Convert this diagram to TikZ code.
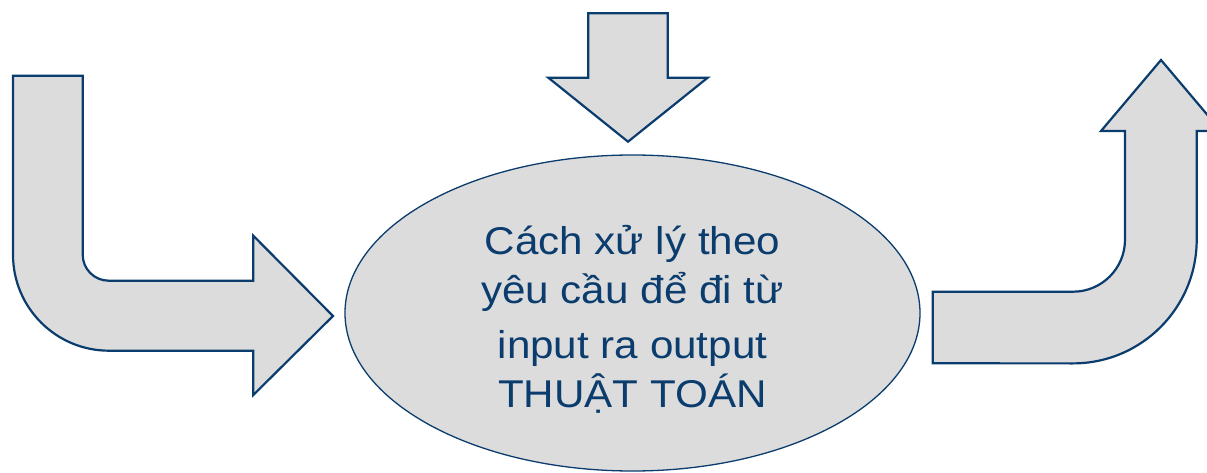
\documentclass[tikz,border=0pt]{standalone}
\usepackage{fontspec}
\setmainfont{Liberation Sans}
\usetikzlibrary{shapes.geometric}
\definecolor{navy}{HTML}{0B3C6E}
\definecolor{shapefill}{HTML}{DCDCDC}
\begin{document}
\begin{tikzpicture}[x=1pt,y=1pt,
  bigarrow/.style={draw=navy, fill=shapefill, line width=2.2pt, line join=miter},
  algtext/.style={anchor=base, text=navy, inner sep=0pt, font=\fontsize{38.7}{46}\selectfont}]
\useasboundingbox (0,0) rectangle (1207,472);
\clip (0,0) rectangle (1207,472);
% left bent arrow
\draw[bigarrow] (13,396.3) -- (82.7,396.3) -- (82.7,217.3)
  arc[start angle=180, end angle=270, radius=26pt] -- (253.3,191.3)
  -- (253.3,236.3) -- (333,156) -- (253.3,77) -- (253.3,121.3) -- (109,121.3)
  arc[start angle=270, end angle=180, radius=96pt] -- cycle;
% top down arrow
\draw[bigarrow] (588.3,458.7) -- (667.7,458.7) -- (667.7,394.3) -- (707.7,394.3)
  -- (628,330.3) -- (548.3,394.3) -- (588.3,394.3) -- cycle;
% right bent arrow
\draw[bigarrow] (932.7,108.7) -- (932.7,180.3) -- (1073,180.3)
  arc[start angle=270, end angle=360, radius=52pt] -- (1125,341) -- (1101,341)
  -- (1161,412) -- (1221,341) -- (1196.7,341) -- (1196.7,232.3)
  arc[start angle=0, end angle=-90, radius=123.7pt] -- cycle;
% ellipse
\node[ellipse, draw=navy, fill=shapefill, line width=1.3pt, minimum width=575pt,
  minimum height=316pt, inner sep=0pt] (alg) at (632.5,159) {};
\node[algtext] (l1) at (632.5,218) {\scalebox{1.09}[1]{Cách xử lý theo}};
\node[algtext] (l2) at (632.5,169) {\scalebox{1.09}[1]{yêu cầu để đi từ}};
\node[algtext] (l3) at (632.5,114) {\scalebox{1.09}[1]{input ra output}};
\node[algtext] (l4) at (632.5,65) {\scalebox{1.09}[1]{THUẬT TOÁN}};
\end{tikzpicture}
\end{document}
